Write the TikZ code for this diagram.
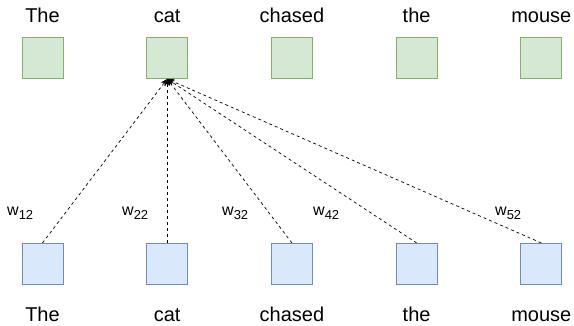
\documentclass[tikz,border=0pt]{standalone}
\usepackage{fontspec}
\setmainfont{Liberation Sans}
\usetikzlibrary{arrows.meta,positioning}
\definecolor{outfill}{HTML}{D5E8D4}
\definecolor{outline}{HTML}{82B366}
\definecolor{infill}{HTML}{DAE8FC}
\definecolor{inline}{HTML}{6C8EBF}

\begin{document}
\begin{tikzpicture}[x=1pt, y=1pt, node distance=82.8pt,
    every node/.style={font=\fontsize{20}{24}\selectfont},
    outbox/.style={draw=outline, fill=outfill, line width=0.9pt, minimum size=41pt, inner sep=0pt},
    inbox/.style={draw=inline, fill=infill, line width=0.9pt, minimum size=41pt, inner sep=0pt},
    word/.style={inner sep=0pt, text height=14pt, text depth=0pt},
    wlabel/.style={anchor=base west, inner sep=0pt, font=\fontsize{16}{18}\selectfont},
    link/.style={-{Stealth[length=7pt, width=6pt]}, dashed, dash pattern=on 3pt off 3pt, line width=0.7pt}]
  \useasboundingbox (0,0) rectangle (574,-326);

  % top row
  \node[outbox] (o1) at (42.5,-58) {};
  \node[outbox, right=of o1] (o2) {};
  \node[outbox, right=of o2] (o3) {};
  \node[outbox, right=of o3] (o4) {};
  \node[outbox, right=of o4] (o5) {};

  \node[word, above=14pt of o1] (lo1) {The};
  \node[word, above=14pt of o2] (lo2) {cat};
  \node[word, above=14pt of o3] (lo3) {chased};
  \node[word, above=14pt of o4] (lo4) {the};
  \node[word, above=14pt of o5] (lo5) {mouse};

  % bottom row
  \node[inbox, below=164pt of o1] (i1) {};
  \node[inbox, right=of i1] (i2) {};
  \node[inbox, right=of i2] (i3) {};
  \node[inbox, right=of i3] (i4) {};
  \node[inbox, right=of i4] (i5) {};

  \node[word, below=22pt of i1] (li1) {The};
  \node[word, below=22pt of i2] (li2) {cat};
  \node[word, below=22pt of i3] (li3) {chased};
  \node[word, below=22pt of i4] (li4) {the};
  \node[word, below=22pt of i5] (li5) {mouse};

  % weights
  \foreach \i in {1,...,5}
    \draw[link] (i\i.north) -- (o2.south);

  \node[wlabel] (w12) at (7,-216) {w\raisebox{-4pt}{\fontsize{13}{13}\selectfont 12}};
  \node[wlabel] (w22) at (122,-216) {w\raisebox{-4pt}{\fontsize{13}{13}\selectfont 22}};
  \node[wlabel] (w32) at (222,-216) {w\raisebox{-4pt}{\fontsize{13}{13}\selectfont 32}};
  \node[wlabel] (w42) at (313,-216) {w\raisebox{-4pt}{\fontsize{13}{13}\selectfont 42}};
  \node[wlabel] (w52) at (495,-216) {w\raisebox{-4pt}{\fontsize{13}{13}\selectfont 52}};
\end{tikzpicture}
\end{document}
